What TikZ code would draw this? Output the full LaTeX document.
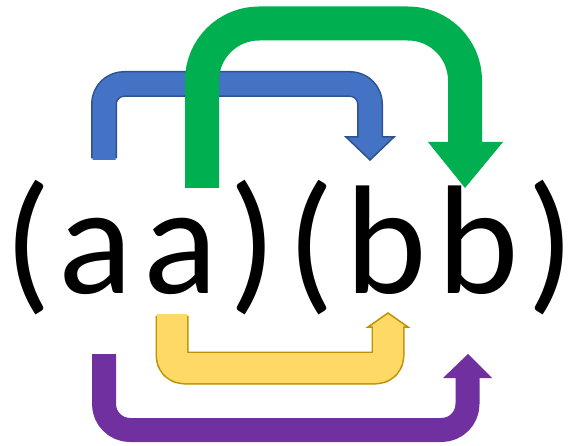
\documentclass[tikz,border=0pt]{standalone}
\usepackage{fontspec}
\setmainfont{Carlito}
\definecolor{bluefill}{HTML}{4472C4}
\definecolor{blueline}{HTML}{2F528F}
\definecolor{greenfill}{HTML}{00B050}
\definecolor{yellowfill}{HTML}{FFD966}
\definecolor{yellowline}{HTML}{BF9000}
\definecolor{purplefill}{HTML}{7030A0}
\newcommand{\glyphbox}[1]{\makebox[0pt]{#1}}
\tikzset{
  glyph/.style={inner sep=0pt, outer sep=0pt, anchor=base, font=\fontsize{155}{155}\selectfont},
  shaft/.style={line cap=butt, line join=round},
  headshape/.style={line join=miter},
}
\begin{document}
\begin{tikzpicture}[x=1pt,y=-1pt]
\useasboundingbox (0,0) rectangle (569,446);

% text characters
\node[glyph] (p1) at (28,293) {\glyphbox{(}};
\node[glyph] (a1) at (96,293) {\glyphbox{a}};
\node[glyph] (a2) at (181,293) {\glyphbox{a}};
\node[glyph] (p2) at (253,293) {\glyphbox{)}};
\node[glyph] (p3) at (311,293) {\glyphbox{(}};
\node[glyph] (b1) at (386,293) {\glyphbox{b}};
\node[glyph] (b2) at (478,293) {\glyphbox{b}};
\node[glyph] (p4) at (551,293) {\glyphbox{)}};

% endpoints
\coordinate (bs) at (104,160);
\coordinate (be) at (370,137);
\coordinate (gs) at (202,188);
\coordinate (ge) at (465,142);
\coordinate (ys) at (172,314);
\coordinate (ye) at (388,327);
\coordinate (ps) at (104,354);
\coordinate (pe) at (467.5,378);

% purple arrow
\draw[shaft, purplefill, line width=24pt, rounded corners=26pt]
  (ps) -- (104,430) -- (467.5,430) -- ([yshift=1pt]pe);
\fill[purplefill] (443,378) -- (492,378) -- (468,354) -- cycle;

% yellow arrow
\draw[shaft, yellowline, line width=33pt, rounded corners=12pt]
  ([yshift=-1.5pt]ys) -- (172,368) -- (388,368) -- (ye);
\filldraw[headshape, fill=yellowfill, draw=yellowline, line width=1.5pt]
  (368,327) -- (408,327) -- (388,313) -- cycle;
\draw[shaft, yellowfill, line width=30pt, rounded corners=12pt]
  (ys) -- (172,368) -- (388,368) -- ([yshift=1.5pt]ye);

% blue arrow
\draw[shaft, blueline, line width=26pt, rounded corners=20pt]
  ([yshift=1.5pt]bs) -- (104,84) -- (370,84) -- (be);
\filldraw[headshape, fill=bluefill, draw=blueline, line width=1.5pt]
  (346,137) -- (394,137) -- (370,160) -- cycle;
\draw[shaft, bluefill, line width=23pt, rounded corners=20pt]
  (bs) -- (104,84) -- (370,84) -- ([yshift=-1.5pt]be);

% green arrow
\draw[shaft, greenfill, line width=34pt, rounded corners=57pt]
  (gs) -- (202,23.5) -- (465,23.5) -- ([yshift=-1pt]ge);
\fill[greenfill] (428,142) -- (503,142) -- (465,188) -- cycle;
\end{tikzpicture}
\end{document}
